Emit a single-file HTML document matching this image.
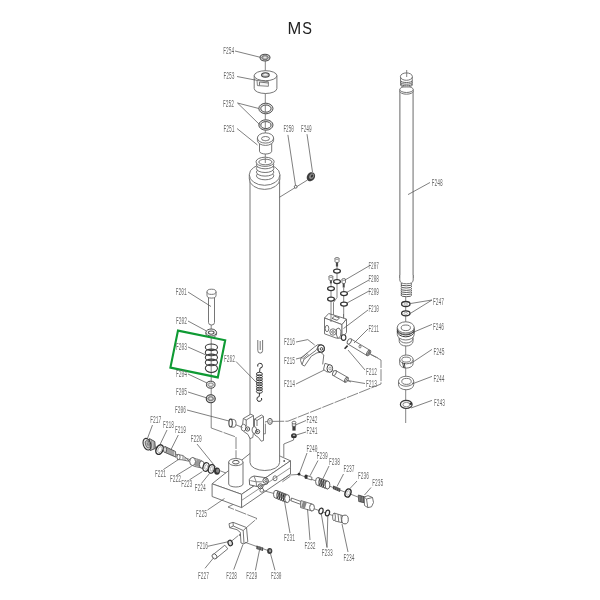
<!DOCTYPE html>
<html><head><meta charset="utf-8"><style>
html,body{margin:0;padding:0;background:#fff;width:600px;height:600px;overflow:hidden}
svg{display:block;will-change:transform}
.t{font-family:"Liberation Mono",monospace;font-size:10px;fill:#686868}
.ttl{font-family:"Liberation Sans",sans-serif;font-size:16.5px;fill:#222}
.s{fill:none;stroke:#666;stroke-width:0.9}
.w{fill:#fff;stroke:#666;stroke-width:0.9}
.k{fill:none;stroke:#3a3a3a;stroke-width:1.2}
.kw{fill:#fff;stroke:#3a3a3a;stroke-width:1.2}
.l{fill:none;stroke:#555;stroke-width:0.75}
.ax{fill:none;stroke:#666;stroke-width:0.8}
.da{fill:none;stroke:#666;stroke-width:0.8;stroke-dasharray:12,1.2}
.g{fill:none;stroke:#0e9a33;stroke-width:2.1}
</style></head><body>
<svg width="600" height="600" viewBox="0 0 600 600">
<rect width="600" height="600" fill="#fff"/>
<text class="ttl" x="287.6" y="33.7">M</text><text class="ttl" transform="translate(302.2,33.7) scale(0.88,1)">S</text>

<!-- ================= TOP STACK ================= -->
<line class="ax" x1="265.3" y1="61" x2="265.3" y2="160"/>
<!-- F254 nut -->
<ellipse cx="265" cy="57.6" rx="5" ry="3.4" fill="#cfcfcf" stroke="#505050" stroke-width="1.1"/>
<path d="M261.6,57.6 L263.2,55.7 L266.8,55.7 L268.4,57.6 L266.8,59.5 L263.2,59.5 Z" fill="#9a9a9a" stroke="#555" stroke-width="0.6"/>
<ellipse cx="265" cy="57.5" rx="1.7" ry="1" fill="#e6e6e6"/>
<!-- F253 block -->
<path class="w" d="M254.2,75.7 L254.2,88.5 A11.35,5 0 0 0 276.9,88.5 L276.9,75.7 Z"/>
<ellipse class="w" cx="265.55" cy="75.7" rx="11.35" ry="5"/>
<ellipse cx="265.4" cy="74.9" rx="3.8" ry="2.2" fill="#c4c4c4" stroke="#444" stroke-width="1.1"/>
<ellipse cx="265.4" cy="74.6" rx="1.7" ry="0.9" fill="#f0f0f0"/>
<path d="M257,80.4 L268.4,81.7 L268.4,86.3 L257.4,85.6 Z" fill="#f4f4f4" stroke="#666" stroke-width="0.8"/>
<path class="s" d="M254.2,79.6 L257,80.4 M259.5,82 L259.5,85.5 M259.5,82 L268.4,83"/>
<!-- F252 rings -->
<g>
<ellipse cx="265.9" cy="108.5" rx="6.1" ry="4.45" fill="none" stroke="#dedede" stroke-width="2"/>
<ellipse cx="265.9" cy="108.5" rx="7.1" ry="5.3" class="s" style="stroke:#555;stroke-width:1"/>
<ellipse cx="265.9" cy="108.6" rx="5.1" ry="3.6" class="s" style="stroke:#555;stroke-width:1"/>
<ellipse cx="265.9" cy="125" rx="6.1" ry="4.35" fill="none" stroke="#dedede" stroke-width="2"/>
<ellipse cx="265.9" cy="125" rx="7.1" ry="5.2" class="s" style="stroke:#555;stroke-width:1"/>
<ellipse cx="265.9" cy="125.1" rx="5.1" ry="3.5" class="s" style="stroke:#555;stroke-width:1"/>
</g>
<!-- F251 bushing -->
<path class="w" d="M259.5,142 L259.5,151.3 A6.1,2.7 0 0 0 271.7,151.3 L271.7,142 Z"/>
<path class="w" d="M257.4,138 L257.4,140.3 A8.1,5.1 0 0 0 273.6,140.3 L273.6,138 Z"/>
<ellipse class="w" cx="265.5" cy="138" rx="8.1" ry="5.1"/>
<ellipse class="s" cx="265.5" cy="138.6" rx="4" ry="2.1"/>
<path class="s" d="M261.8,139.4 A3.8,1.7 0 0 0 269.2,139.4" style="stroke:#999"/>

<!-- ================= BASE BLOCK ================= -->
<polygon class="w" points="212.1,483.8 241.6,494.3 290.5,460.8 280.7,456.4 258.7,446.5"/>
<polygon class="w" points="212.1,483.8 241.6,494.3 241.6,507.6 212.1,496.5"/>
<polygon class="w" points="241.6,494.3 290.5,460.8 290.5,474 241.6,507.6"/>
<line class="s" x1="241.6" y1="500.4" x2="290.5" y2="467.6" style="stroke:#888"/>
<circle cx="284.2" cy="461" r="0.9" fill="#555"/>

<!-- ================= COLUMN ================= -->
<path class="w" d="M250,178.9 L250,462.5 A14.8,8 0 0 0 279.6,462.5 L279.6,178.9 Z"/>
<!-- collar -->
<path class="w" d="M249.3,174.8 L249.3,178.9 A15.3,10.5 0 0 0 279.9,178.9 L279.9,174.8 Z"/>
<ellipse class="w" cx="264.6" cy="174.8" rx="15.3" ry="10.5"/>
<!-- threaded stud -->
<ellipse class="w" cx="265.1" cy="175.8" rx="8.7" ry="4"/>
<ellipse class="w" cx="265.1" cy="172.1" rx="8.7" ry="4"/>
<ellipse class="w" cx="265.1" cy="168.5" rx="8.7" ry="4"/>
<ellipse class="w" cx="265.1" cy="164.8" rx="8.7" ry="4"/>
<ellipse class="w" cx="265.1" cy="161.8" rx="9.1" ry="4.6"/>
<ellipse class="s" cx="265.4" cy="162" rx="6.6" ry="2.8"/>
<line class="ax" x1="265.3" y1="158" x2="265.3" y2="163"/>
<!-- U clip -->
<path class="s" d="M257.8,340 L257.8,350.5 A2.4,2.6 0 0 0 262.6,350.5 L262.6,340 M260.2,341 L260.2,350"/>
<!-- spring F262 -->
<path d="M259.6,372.2 L260,368.1 A2.4,2.4 0 1 0 257.8,366.6" fill="none" stroke="#333" stroke-width="1"/>
<path d="M259.6,392.8 L259.2,396.6 A2.4,2.4 0 1 0 261.5,398" fill="none" stroke="#333" stroke-width="1"/>
<g stroke="#333" stroke-width="0.95" fill="none">
<ellipse cx="259.4" cy="374.00" rx="3.0" ry="1.75"/><ellipse cx="259.4" cy="376.50" rx="3.0" ry="1.75"/><ellipse cx="259.4" cy="379.00" rx="3.0" ry="1.75"/><ellipse cx="259.4" cy="381.50" rx="3.0" ry="1.75"/><ellipse cx="259.4" cy="384.00" rx="3.0" ry="1.75"/><ellipse cx="259.4" cy="386.50" rx="3.0" ry="1.75"/><ellipse cx="259.4" cy="389.00" rx="3.0" ry="1.75"/><ellipse cx="259.4" cy="391.50" rx="3.0" ry="1.75"/>
</g>

<!-- F250 / F249 -->
<line class="l" x1="279.6" y1="197.2" x2="307.5" y2="180"/>
<circle class="w" cx="295.7" cy="186.8" r="1.4" style="stroke:#555"/>
<ellipse cx="310.9" cy="176.7" rx="3.9" ry="4.8" transform="rotate(35 310.9 176.7)" fill="#3e3e3e"/>
<ellipse cx="311.6" cy="176.2" rx="2.2" ry="3" transform="rotate(35 311.6 176.2)" fill="#8a8a8a"/>
<ellipse cx="312" cy="176" rx="1" ry="1.5" transform="rotate(35 312 176)" fill="#333"/>

<!-- ================= RIGHT ROD F248 ================= -->
<line class="ax" x1="406.7" y1="70" x2="406.7" y2="77"/>
<path d="M399.8,89.5 L399.8,280 Q399.8,283.8 406.5,283.8 Q413.2,283.8 413.2,280 L413.2,89.5 Z" fill="#fff"/>
<line x1="399.9" y1="91" x2="399.9" y2="278" stroke="#5e5e5e" stroke-width="0.95"/>
<line x1="413.1" y1="91" x2="413.1" y2="278" stroke="#9c9c9c" stroke-width="1.5"/>
<path class="w" d="M399.8,89.5 L399.8,91.2 A6.7,3 0 0 0 413.2,91.2 L413.2,89.5 Z"/>
<ellipse class="w" cx="406.5" cy="89.5" rx="6.7" ry="3"/>
<path class="w" d="M400.6,77 L400.6,85.2 A5.8,1.8 0 0 0 412.2,85.2 L412.2,77 Z"/>
<path class="s" d="M400.6,80.7 A5.8,1.8 0 0 0 412.2,80.7 M400.6,82.4 A5.8,1.8 0 0 0 412.2,82.4 M400.6,84 A5.8,1.8 0 0 0 412.2,84" style="stroke:#555"/>
<ellipse class="w" cx="406.4" cy="76.6" rx="6" ry="3.7"/>
<line class="ax" x1="406.7" y1="73" x2="406.7" y2="77"/>
<!-- bottom threads -->
<g class="w" style="stroke:#4a4a4a">
<ellipse cx="406.3" cy="294.9" rx="5.5" ry="1.8"/>
<ellipse cx="406.3" cy="292.8" rx="5.5" ry="1.8"/>
<ellipse cx="406.3" cy="290.7" rx="5.5" ry="1.8"/>
<ellipse cx="406.3" cy="288.6" rx="5.5" ry="1.8"/>
<ellipse cx="406.3" cy="286.2" rx="5.5" ry="1.8"/>
<ellipse cx="406.3" cy="284" rx="5.5" ry="1.8"/>
</g>
<path class="w" d="M399.8,275 L399.8,280 Q399.8,283.8 406.5,283.8 Q413.2,283.8 413.2,280 L413.2,275" style="stroke:none"/>
<path class="s" d="M399.8,275 L399.8,280 Q399.8,283.8 406.5,283.8 Q413.2,283.8 413.2,280 L413.2,275"/>

<line class="ax" x1="405.7" y1="297" x2="405.7" y2="423"/>
<!-- F247 -->
<ellipse cx="405.8" cy="304" rx="4.2" ry="2.5" fill="#fff" stroke="#333" stroke-width="1.3"/>
<ellipse cx="405.8" cy="304.1" rx="1.8" ry="1" fill="none" stroke="#888" stroke-width="0.6"/>
<ellipse cx="405.8" cy="313.3" rx="4.2" ry="2.5" fill="#fff" stroke="#333" stroke-width="1.3"/>
<ellipse cx="405.8" cy="313.4" rx="1.8" ry="1" fill="none" stroke="#888" stroke-width="0.6"/>
<!-- F246 -->
<path class="w" d="M399.2,336 L399.2,341.4 A6.9,4.6 0 0 0 413,341.4 L413,336 Z"/>
<path class="s" d="M399.2,338.4 A6.9,4.6 0 0 0 413,338.4"/>
<path class="w" d="M397.3,327.4 L397.3,334.4 A8.45,5.6 0 0 0 414.2,334.4 L414.2,327.4 Z"/>
<path class="s" d="M397.3,328.65 A8.45,5.6 0 0 0 414.2,328.65"/>
<path class="k" d="M397.3,329.4 A8.45,5.6 0 0 0 414.2,329.4 M397.3,331.2 A8.45,5.6 0 0 0 414.2,331.2" style="stroke-width:1"/>
<ellipse class="w" cx="405.75" cy="327.4" rx="8.45" ry="5.6"/>
<ellipse class="s" cx="405.8" cy="327.8" rx="4.6" ry="2.8"/>
<!-- F245 -->
<path class="w" d="M399.7,359.4 L399.7,363.7 A6.7,4.4 0 0 0 413.1,363.7 L413.1,359.4 Z"/>
<ellipse class="w" cx="406.4" cy="359.4" rx="6.7" ry="4.4"/>
<ellipse class="s" cx="406.2" cy="359.6" rx="4.4" ry="2.5"/>
<path d="M402.6,362.6 L403.8,367.8 M404.3,363 L405,368.1" stroke="#333" stroke-width="0.9" fill="none"/>
<!-- F244 -->
<path class="w" d="M398.5,381.25 L398.5,384.75 A7.6,5 0 0 0 413.7,384.75 L413.7,381.25 Z"/>
<ellipse class="w" cx="406.1" cy="381.25" rx="7.6" ry="5"/>
<ellipse class="s" cx="406.5" cy="381.4" rx="4.7" ry="3"/>
<!-- F243 -->
<ellipse cx="406.25" cy="404.4" rx="5.9" ry="4.1" fill="#eee" stroke="#3a3a3a" stroke-width="1.15"/>
<ellipse cx="406.4" cy="404.6" rx="3.4" ry="2.2" fill="#fff" stroke="#666" stroke-width="0.7"/>
<circle cx="410.8" cy="403.7" r="1.3" fill="#333"/>

<!-- ================= LEFT STACK F201-F205 ================= -->
<line class="ax" x1="211.2" y1="325" x2="211.2" y2="428"/>
<path class="w" d="M208.5,296 L208.5,322.5 A3,2.5 0 0 0 214.5,322.5 L214.5,296 Z"/>
<path class="w" d="M207,291.8 L207,295.5 A4.5,2.6 0 0 0 216,295.5 L216,291.8 Z"/>
<ellipse class="w" cx="211.5" cy="291.8" rx="4.5" ry="2.6"/>
<!-- F202 -->
<path class="w" d="M205.9,332.5 L205.9,334 A5.35,3.5 0 0 0 216.6,334 L216.6,332.5 Z"/>
<ellipse cx="211.2" cy="332.5" rx="5.35" ry="3.5" fill="#f2f2f2" stroke="#555" stroke-width="1"/>
<ellipse cx="211.2" cy="332.6" rx="2.8" ry="1.6" fill="#fff" stroke="#555" stroke-width="1.1"/>
<!-- F203 spring -->
<g stroke="#3a3a3a" stroke-width="1.05" fill="none">
<ellipse cx="211.4" cy="368.3" rx="6.1" ry="4.1"/>
<ellipse cx="211.4" cy="362.4" rx="6.1" ry="3.3"/>
<ellipse cx="211.4" cy="357.4" rx="6.1" ry="3.3"/>
<ellipse cx="211.4" cy="352.4" rx="6.1" ry="3.3"/>
<ellipse cx="211.4" cy="347.3" rx="6.1" ry="3.3"/>
</g>
<!-- F204 -->
<ellipse cx="210.75" cy="384.7" rx="4.3" ry="3.5" fill="#e6e6e6" stroke="#444" stroke-width="1"/>
<path d="M207.8,384.7 L209.3,383 L212.2,383 L213.7,384.7 L212.2,386.4 L209.3,386.4 Z" fill="#c4c4c4" stroke="#555" stroke-width="0.5"/>
<ellipse cx="210.75" cy="384.7" rx="1.3" ry="0.9" fill="#f4f4f4"/>
<!-- F205 -->
<ellipse cx="210.75" cy="398.7" rx="4.5" ry="4" fill="#d8d8d8" stroke="#3a3a3a" stroke-width="1.1"/>
<path d="M207.6,398.7 L209.2,396.8 L212.3,396.8 L213.9,398.7 L212.3,400.6 L209.2,400.6 Z" fill="#a0a0a0" stroke="#444" stroke-width="0.5"/>
<ellipse cx="210.75" cy="398.6" rx="1.4" ry="1" fill="#e6e6e6"/>
<polyline class="da" points="211.2,428 236,437 236,458"/>

<!-- green box -->
<polygon class="g" points="178,330.6 225.2,340.2 217.8,377.4 170.4,367.6"/>

<!-- ================= F206 CLEVIS ================= -->
<path class="w" d="M243.3,418.5 L250.8,414.2 L253.5,415.6 L253.5,432 L252.8,437.5 L250,438.6 L248,434.5 L243.8,431.5 L242.2,428 Z"/>
<path class="s" d="M243.3,418.5 L246.2,420 L253.5,415.6 M246.2,420 L246.2,426"/>
<path class="w" d="M254.5,419 L261.4,415 L263.5,416.4 L263.5,440.5 L261.2,441.2 L258.5,437.5 L255,435.2 L253.3,431 L254.5,426 Z"/>
<path class="s" d="M254.5,419 L257,420.5 L263.5,416.4 M257,420.5 L257,426"/>
<ellipse class="w" cx="243.6" cy="427.6" rx="2.4" ry="3.4"/>
<circle class="s" cx="247.6" cy="429" r="2.1" style="stroke:#444"/>
<circle cx="247.6" cy="429" r="0.8" fill="#555"/>
<ellipse class="w" cx="254.3" cy="430" rx="2.3" ry="3.4"/>
<circle class="s" cx="257.6" cy="431.6" r="2.1" style="stroke:#444"/>
<circle cx="257.6" cy="431.6" r="0.8" fill="#555"/>
<!-- F206 pin -->
<path class="w" d="M230.6,419.1 L233.8,419.5 A2.3,3.9 0 0 1 233.8,427.3 L230.6,426.9 Z"/>
<ellipse cx="230.6" cy="423" rx="1.7" ry="3.9" fill="#fff" stroke="#444" stroke-width="1.1"/>
<line class="da" x1="236" y1="424.8" x2="242.5" y2="427.5"/>
<ellipse cx="270" cy="421.4" rx="2.3" ry="3" fill="#fff" stroke="#555" stroke-width="1"/>
<ellipse cx="270.3" cy="421.4" rx="1" ry="1.4" fill="none" stroke="#777" stroke-width="0.6"/>
<polyline class="da" points="263.5,433.8 265.4,433.8 265.4,421.6 267.8,421.6"/>
<polyline class="da" points="272.2,421.4 288,421.2 381,384 381,360 371,354.6"/>

<!-- tube F226 -->
<path class="w" d="M228.7,462.1 L228.7,484 A7.15,3 0 0 0 243,484 L243,462.1 Z"/>
<ellipse class="w" cx="235.85" cy="462.1" rx="7.15" ry="3.6"/>
<ellipse cx="235.85" cy="462.2" rx="3.3" ry="1.8" fill="#fff" stroke="#555" stroke-width="1"/>
<!-- F225 small clevis on block -->
<path class="w" d="M249.3,479.6 Q250,477 254,476 L263.5,477.4 L266.5,478 L268.3,481 L267.3,484 L263,484.8 L259.5,485.5 L257,486.5 L249.6,484.8 Z" style="stroke:#555"/>
<path class="s" d="M250.3,480.6 L256.2,481.8 L262.5,481.8 M256.2,481.8 L256.6,486.4 M254,476 L256.2,481.8" style="stroke:#777"/>
<circle class="w" cx="265.6" cy="480.6" r="2.7" style="stroke:#444"/>
<circle class="s" cx="265.9" cy="480.6" r="1.1" style="stroke:#555"/>
<circle class="w" cx="261.8" cy="490.3" r="1.9" style="stroke:#666"/>
<circle class="w" cx="260.5" cy="486.3" r="2.5" style="stroke:#444"/>
<circle class="s" cx="260.7" cy="486.3" r="1" style="stroke:#444"/>
<ellipse class="s" cx="275" cy="478.3" rx="2" ry="2.5"/>
<path class="s" d="M281.9,480.2 L290.4,474.4 M282.4,481.8 L290.4,476.2" style="stroke:#777"/>
<line class="ax" x1="290.4" y1="475" x2="299" y2="474.4"/>
<line class="ax" x1="263" y1="490.5" x2="274" y2="493.5"/>

<!-- F242/F241 -->
<rect x="292.4" y="426" width="3.2" height="4.6" fill="#3c3c3c"/>
<path d="M292.3,422.8 L292.3,426.3 L295.7,426.3 L295.7,422.8 Z" fill="#fff" stroke="#555" stroke-width="0.8"/>
<ellipse cx="294" cy="422.6" rx="1.9" ry="1.4" fill="#fff" stroke="#555" stroke-width="0.8"/>
<ellipse cx="293.9" cy="435.8" rx="2.9" ry="2.5" fill="#333"/>
<ellipse cx="294" cy="435.3" rx="1.3" ry="0.9" fill="#aaa"/>
<polyline class="l" points="293.6,437.8 293.6,440 283.8,444 283.8,457"/>

<!-- ================= VALVE ASSEMBLY F207-F211 ================= -->
<polyline class="ax" points="337,266 337,297.5 333.5,302.5 333.5,316"/>
<line class="ax" x1="331" y1="283.5" x2="331" y2="322"/>
<line class="ax" x1="343.7" y1="287.5" x2="343.7" y2="318"/>
<!-- bolts -->
<rect x="335.9" y="261" width="2.2" height="5.5" fill="#4a4a4a"/>
<path d="M335,258.4 L335,261.6 A2,0.9 0 0 0 339,261.6 L339,258.4 Z" fill="#fff" stroke="#555" stroke-width="0.8"/>
<ellipse cx="337" cy="258.4" rx="2" ry="0.9" fill="#fff" stroke="#555" stroke-width="0.7"/>
<rect x="329.9" y="279" width="2" height="4.5" fill="#4a4a4a"/>
<path d="M329,276.4 L329,279.6 A1.9,0.9 0 0 0 332.8,279.6 L332.8,276.4 Z" fill="#fff" stroke="#555" stroke-width="0.8"/>
<ellipse cx="330.9" cy="276.4" rx="1.9" ry="0.9" fill="#fff" stroke="#555" stroke-width="0.7"/>
<rect x="342.7" y="282" width="2" height="5.5" fill="#4a4a4a"/>
<path d="M342,279.4 L342,282.6 A1.75,0.9 0 0 0 345.5,282.6 L345.5,279.4 Z" fill="#fff" stroke="#555" stroke-width="0.8"/>
<ellipse cx="343.75" cy="279.4" rx="1.75" ry="0.9" fill="#fff" stroke="#555" stroke-width="0.7"/>
<g fill="#fff" stroke="#333" stroke-width="1.25">
<ellipse cx="337" cy="271" rx="3.4" ry="2"/><ellipse cx="337" cy="281.5" rx="3.4" ry="2"/>
<ellipse cx="331" cy="288.5" rx="3.4" ry="2"/><ellipse cx="331" cy="299" rx="3.4" ry="2"/>
<ellipse cx="344" cy="293.5" rx="3.4" ry="2"/><ellipse cx="344" cy="304" rx="3.4" ry="2"/>
</g>
<!-- block F210 -->
<polygon class="w" points="324.5,318 328.7,313.5 346.5,319 342,324.6"/>
<polygon class="w" points="324.5,318 342,324.6 342,338.2 336,338 324.5,333.8"/>
<polygon class="w" points="342,324.6 346.5,319 346.5,332.5 342,338.2"/>
<polygon class="s" points="332,318.4 334.5,316.2 339.5,318 337,320.3" style="stroke:#555"/>
<line class="ax" x1="331" y1="314" x2="331" y2="322"/>
<line class="ax" x1="343.5" y1="314" x2="343.5" y2="318.5"/>
<ellipse class="w" cx="327" cy="328.5" rx="1.8" ry="3.2"/>
<circle class="w" cx="333" cy="332" r="3.2"/>
<circle class="s" cx="333" cy="332" r="1.3"/>
<path class="w" d="M336.5,329 L339,328 L341,331 L340.5,336 L338,338.5 L336.5,335 Z"/>
<ellipse cx="343.6" cy="337.6" rx="2.3" ry="2.8" fill="#fff" stroke="#333" stroke-width="1.1"/>
<!-- F211 -->
<path class="w" d="M350.8,338.8 L370.1,350.4 L367.1,355.6 L347.8,344 Z"/>
<ellipse class="w" cx="349.3" cy="341.4" rx="1.7" ry="3" transform="rotate(31 349.3 341.4)"/>
<ellipse class="s" cx="368.6" cy="353" rx="1.7" ry="3" transform="rotate(31 368.6 353)"/>
<ellipse class="s" cx="368.8" cy="353" rx="0.8" ry="1.4" transform="rotate(31 368.8 353)"/>
<ellipse class="s" cx="360" cy="346.6" rx="1" ry="1.4"/>
<line class="ax" x1="370" y1="354" x2="378" y2="358"/>
<!-- F212 pin -->
<line x1="344.6" y1="348.8" x2="347.6" y2="345.6" stroke="#333" stroke-width="1.6"/>
<!-- F215/F216 lever -->
<path class="w" d="M300.5,360.4 L301.1,357.9 L314.7,346.8 L317.5,344.8 L321.5,344.6 L324.3,347 L324.4,350.5 L322,352.2 L317,352.8 L311.3,356.2 L304.5,366.1 L302,364.6 Z"/>
<path d="M301.6,357.2 L304,359.3 M302.8,356.2 L305.2,358.3 M304,355.2 L306.4,357.3 M305.2,354.2 L307.6,356.3 M306.4,353.2 L308.8,355.3" stroke="#555" stroke-width="0.7"/>
<path class="s" d="M304,359.3 L316,350.3"/>
<path class="s" d="M304,359.3 L302,364.6"/>
<ellipse cx="321" cy="348.6" rx="3.3" ry="3.6" fill="#fff" stroke="#333" stroke-width="1.1"/>
<circle cx="321.5" cy="348.9" r="1.3" fill="none" stroke="#333" stroke-width="0.9"/>
<circle cx="317.6" cy="349.3" r="1.2" fill="#666"/>
<path class="s" d="M319.9,351.6 L323.8,355 L322.7,364.4"/>
<!-- F214 -->
<path class="w" d="M325,363.3 L329.5,364.8 L331.8,371.5 L327,372 L323.5,369.5 Z"/>
<ellipse cx="329.8" cy="368.5" rx="2.8" ry="3.8" fill="#fff" stroke="#444" stroke-width="1"/>
<ellipse cx="330" cy="368.5" rx="1.1" ry="1.5" fill="none" stroke="#666" stroke-width="0.6"/>
<line class="ax" x1="332.5" y1="370" x2="335" y2="372.5"/>
<!-- F213 -->
<path class="w" d="M335.8,370.6 L347.8,377.4 L345,382.2 L333,375.4 Z"/>
<ellipse class="w" cx="334.4" cy="373" rx="1.5" ry="2.8" transform="rotate(29.5 334.4 373)"/>
<ellipse class="s" cx="346.4" cy="379.8" rx="1.5" ry="2.8" transform="rotate(29.5 346.4 379.8)"/>
<line class="ax" x1="347.5" y1="380.5" x2="351" y2="382"/>

<!-- ================= LEFT HORIZONTAL ASSEMBLY ================= -->
<line class="ax" x1="156" y1="447" x2="226" y2="473"/>
<!-- F217 plug -->
<path d="M149.5,438.6 L154.8,441.6 L155.4,448.4 L150.2,450.6 Z" fill="#e4e4e4" stroke="#444" stroke-width="0.9"/>
<path d="M151.3,439.8 L151.8,449.8 M152.9,440.6 L153.4,449.3 M154.2,441.3 L154.5,448.7" stroke="#555" stroke-width="0.6"/>
<ellipse cx="147" cy="444.2" rx="3.7" ry="6" transform="rotate(-18 147 444.2)" fill="#e2e2e2" stroke="#333" stroke-width="1.1"/>
<ellipse cx="147.6" cy="444.3" rx="2.1" ry="3.9" transform="rotate(-18 147.6 444.3)" fill="#bdbdbd" stroke="#555" stroke-width="0.7"/>
<ellipse cx="147.8" cy="444.3" rx="0.9" ry="1.8" transform="rotate(-18 147.8 444.3)" fill="#888"/>
<!-- F218 ring -->
<ellipse cx="159.6" cy="449.6" rx="3.4" ry="5" transform="rotate(25 159.6 449.6)" fill="#fff" stroke="#2e2e2e" stroke-width="1.5"/>
<ellipse cx="159.9" cy="449.6" rx="1.8" ry="3.2" transform="rotate(25 159.9 449.6)" fill="#fff" stroke="#888" stroke-width="0.6"/>
<!-- F219 -->
<path d="M165,446.5 L175.5,451.5 L176,457.2 L165.2,452.5 Z" fill="#d6d6d6" stroke="#444" stroke-width="0.8"/>
<g stroke="#444" stroke-width="0.7"><line x1="167" y1="447.5" x2="167" y2="453.3"/><line x1="169" y1="448.4" x2="169" y2="454.2"/><line x1="171" y1="449.4" x2="171" y2="455.1"/><line x1="173" y1="450.3" x2="173" y2="456"/></g>
<ellipse cx="165" cy="449.6" rx="1.6" ry="3" fill="#ddd" stroke="#444" stroke-width="0.8"/>
<!-- F221 -->
<path d="M177.5,454.5 L183,455.5 L189.4,461.3 L182,459.8 L177.5,459.5 Z" fill="#fff" stroke="#555" stroke-width="0.8"/>
<ellipse cx="178.5" cy="457" rx="1.6" ry="2.6" fill="#fff" stroke="#555" stroke-width="0.8"/>
<path d="M183,456 L183,459.6 M185,457.5 L185,460" stroke="#555" stroke-width="0.7"/>
<!-- F222 -->
<path class="w" d="M192.5,457.6 L200.5,460.5 L203,468.3 L195,466.5 L192,465.3 Z"/>
<rect x="195.5" y="459" width="5.5" height="7.5" fill="#999" transform="rotate(20 198 463)"/>
<ellipse cx="192.6" cy="461.5" rx="2.9" ry="4" fill="#fff" stroke="#555" stroke-width="0.9"/>
<ellipse cx="201.8" cy="464.6" rx="2.4" ry="3.6" fill="#fff" stroke="#555" stroke-width="0.9"/>
<!-- F223/F224 rings -->
<ellipse cx="206" cy="467" rx="2.9" ry="4.4" transform="rotate(15 206 467)" fill="#fff" stroke="#333" stroke-width="1.2"/>
<ellipse cx="206.2" cy="467" rx="1.4" ry="2.4" transform="rotate(15 206.2 467)" fill="none" stroke="#888" stroke-width="0.6"/>
<ellipse cx="211.4" cy="468.9" rx="2.9" ry="4.4" transform="rotate(15 211.4 468.9)" fill="#fff" stroke="#333" stroke-width="1.2"/>
<ellipse cx="211.6" cy="468.9" rx="1.4" ry="2.4" transform="rotate(15 211.6 468.9)" fill="none" stroke="#888" stroke-width="0.6"/>
<!-- F220 nut -->
<ellipse cx="217" cy="471.1" rx="3" ry="3.6" fill="#333"/>
<ellipse cx="217.6" cy="470.8" rx="1.6" ry="2" fill="#888"/>

<!-- ================= RIGHT-BOTTOM ASSEMBLY F235-F240 ================= -->
<line class="ax" x1="299" y1="474.5" x2="358" y2="497"/>
<circle cx="299" cy="474.2" r="1.4" fill="#2e2e2e"/>
<!-- F239 -->
<path d="M307,475.5 L312,477.3 L311.6,480 L306.6,478.4 Z" fill="#fff" stroke="#555" stroke-width="0.8"/>
<ellipse cx="306" cy="476.8" rx="1.6" ry="2.3" fill="#333"/>
<!-- F238 spring -->
<path class="w" d="M318,477.5 L327.5,481 L327.5,489 L318,485.5 Z" style="stroke:none"/>
<ellipse cx="318" cy="481.5" rx="2.4" ry="4" fill="#fff" stroke="#555" stroke-width="0.9"/>
<g stroke="#2e2e2e" stroke-width="1" fill="none">
<ellipse cx="320.5" cy="482.4" rx="1.6" ry="3.8"/><ellipse cx="322.5" cy="483.2" rx="1.6" ry="3.8"/><ellipse cx="324.5" cy="484" rx="1.6" ry="3.8"/>
</g>
<ellipse cx="327.5" cy="485" rx="2.4" ry="4" fill="#fff" stroke="#555" stroke-width="0.9"/>
<path class="s" d="M318,477.5 L327.5,481 M318,485.5 L327.5,489"/>
<!-- F237 -->
<path d="M333.2,485.5 L340.5,488.5 L340,492 L332.8,489 Z" fill="#444"/>
<g stroke="#aaa" stroke-width="0.5"><line x1="335" y1="486.5" x2="334.6" y2="489.8"/><line x1="337" y1="487.3" x2="336.6" y2="490.6"/><line x1="339" y1="488.1" x2="338.6" y2="491.4"/></g>
<!-- F236 -->
<ellipse cx="348" cy="493" rx="2.8" ry="4.2" transform="rotate(20 348 493)" fill="#fff" stroke="#2e2e2e" stroke-width="1.4"/>
<ellipse cx="348.2" cy="493" rx="1.3" ry="2.4" transform="rotate(20 348.2 493)" fill="none" stroke="#999" stroke-width="0.6"/>
<!-- F235 plug -->
<path d="M358.3,495 L365,497 L365.5,503 L358.7,501.5 Z" fill="#9a9a9a" stroke="#444" stroke-width="0.8"/>
<g stroke="#333" stroke-width="0.7"><line x1="360" y1="495.4" x2="360.3" y2="502"/><line x1="361.7" y1="495.9" x2="362" y2="502.4"/><line x1="363.4" y1="496.4" x2="363.7" y2="502.8"/></g>
<path class="w" d="M364.2,497 L368,495.6 L372.5,497.5 L373.5,502.5 L371.5,506.8 L367.8,507.6 L364.5,505.5 Z"/>
<path class="s" d="M364.2,497 L366.5,499 L372.5,497.5 M366.5,499 L367.8,507.6"/>
<!-- F231 spring -->
<line class="ax" x1="289" y1="499.5" x2="334" y2="516"/>
<path d="M276,490.3 L287.2,494.6 L287.2,502.6 L276,498.3 Z" fill="#fff"/>
<ellipse cx="276" cy="494.3" rx="2.5" ry="4" fill="#fff" stroke="#555" stroke-width="0.9"/>
<g stroke="#2e2e2e" stroke-width="1" fill="none">
<ellipse cx="278.5" cy="495.3" rx="1.6" ry="3.9"/><ellipse cx="280.6" cy="496.1" rx="1.6" ry="3.9"/><ellipse cx="282.7" cy="496.9" rx="1.6" ry="3.9"/><ellipse cx="284.8" cy="497.7" rx="1.6" ry="3.9"/>
</g>
<ellipse cx="287.2" cy="498.6" rx="2.5" ry="4" fill="#fff" stroke="#555" stroke-width="0.9"/>
<path class="s" d="M276,490.3 L287.2,494.6 M276,498.3 L287.2,502.6"/>
<!-- F232 -->
<path class="w" d="M291.5,498 L301,501.5 L300.5,504.3 L291,500.8 Z"/>
<path class="w" d="M301,500.6 L312,504 L312,511 L300.5,507.5 Z"/>
<rect x="302" y="501.5" width="4" height="6.5" fill="#888" transform="rotate(17 304 504.7)"/>
<ellipse cx="312" cy="507.5" rx="2.4" ry="3.5" fill="#fff" stroke="#555" stroke-width="0.9"/>
<!-- F233 -->
<ellipse cx="321" cy="511" rx="2" ry="3" transform="rotate(15 321 511)" fill="#fff" stroke="#2e2e2e" stroke-width="1.2"/>
<ellipse cx="327.5" cy="513" rx="2" ry="3" transform="rotate(15 327.5 513)" fill="#fff" stroke="#2e2e2e" stroke-width="1.2"/>
<!-- F234 -->
<path class="w" d="M334,513 L344,516 L345.5,523.5 L335,521 Z"/>
<path class="s" d="M338,514.2 L338.8,521.8 M341,515 L341.6,522.5"/>
<ellipse cx="345" cy="519.5" rx="3.3" ry="4.4" fill="#fff" stroke="#555" stroke-width="0.9"/>
<ellipse cx="334" cy="517" rx="1.4" ry="3.8" fill="#fff" stroke="#555" stroke-width="0.8"/>

<!-- ================= BOTTOM BRACKET ================= -->
<polyline class="da" points="233,504.5 228,507 257,518.5 246.3,527.7"/>
<path class="w" d="M229,523.7 L233,522.3 L246.5,527.5 L247.8,541.8 L243.8,543.8 L241,543 L240.3,532.3 L237,529.7 L229.7,527.7 Z"/>
<path class="s" d="M233,522.3 L233.3,526 L243.2,530.5 L244,543.5 M233.3,526 L229.7,527.7 M243.2,530.5 L246.5,527.5"/>
<circle cx="240" cy="535" r="1" fill="#666"/>
<line class="ax" x1="245" y1="542.3" x2="268" y2="550.5"/>
<line class="ax" x1="238.3" y1="535.5" x2="231.7" y2="541"/>
<ellipse cx="230.2" cy="543" rx="2.1" ry="2.8" transform="rotate(-25 230.2 543)" fill="#ddd" stroke="#2e2e2e" stroke-width="1.2"/>
<!-- F227 pin -->
<path class="w" d="M213.2,554.5 L224.8,545.2 L227.8,548.8 L216.3,558.2 Z"/>
<ellipse cx="214.5" cy="556.4" rx="2.2" ry="2.7" transform="rotate(-40 214.5 556.4)" fill="#fff" stroke="#555" stroke-width="0.9"/>
<!-- F229 -->
<path d="M256.5,545.5 L263.2,547.5 L263,551 L256.3,549 Z" fill="#444"/>
<g stroke="#bbb" stroke-width="0.5"><line x1="258.3" y1="546" x2="258.1" y2="549.4"/><line x1="260" y1="546.5" x2="259.8" y2="549.9"/><line x1="261.7" y1="547" x2="261.5" y2="550.4"/></g>
<!-- F230 -->
<ellipse cx="269.7" cy="551" rx="2.6" ry="3" fill="#3a3a3a"/>
<ellipse cx="270" cy="550.8" rx="1.2" ry="1.5" fill="#999"/>

<!-- ================= LEADERS ================= -->
<g class="l">
<line x1="235" y1="51" x2="260.3" y2="57.3"/>
<line x1="237" y1="76.5" x2="255" y2="80"/>
<line x1="237.5" y1="103" x2="258.8" y2="108.5"/>
<line x1="237.5" y1="103" x2="259.5" y2="124.5"/>
<line x1="237" y1="128.5" x2="257.5" y2="145"/>
<line x1="287.9" y1="134.9" x2="295.5" y2="185.4"/>
<line x1="307" y1="134.2" x2="312.5" y2="172"/>
<line x1="430" y1="182.5" x2="408" y2="194.6"/>
<line x1="432" y1="300" x2="410" y2="303.6"/>
<line x1="432" y1="300" x2="410" y2="313.6"/>
<line x1="432" y1="324.4" x2="413" y2="332.4"/>
<line x1="432" y1="349.4" x2="410" y2="364"/>
<line x1="432" y1="376.4" x2="412" y2="384"/>
<line x1="432" y1="400.4" x2="411" y2="408"/>
<line x1="188" y1="292" x2="211" y2="306.5"/>
<line x1="188" y1="321" x2="206.5" y2="331"/>
<line x1="188" y1="347" x2="206" y2="355"/>
<line x1="236" y1="361.5" x2="257" y2="383"/>
<line x1="188" y1="374" x2="207" y2="383"/>
<line x1="188" y1="392" x2="207" y2="398"/>
<line x1="187" y1="410" x2="229" y2="421"/>
<line x1="152.5" y1="425" x2="147.5" y2="438.3"/>
<line x1="167" y1="430" x2="160" y2="444.6"/>
<line x1="178.3" y1="435" x2="170.8" y2="450"/>
<line x1="197" y1="444" x2="216" y2="467.5"/>
<line x1="163.3" y1="469.6" x2="178.3" y2="459.6"/>
<line x1="176.6" y1="475.3" x2="191.7" y2="466.1"/>
<line x1="189.4" y1="479.9" x2="202.3" y2="471.6"/>
<line x1="201.4" y1="483.5" x2="209.6" y2="473.4"/>
<line x1="207.5" y1="510" x2="224.5" y2="498.5"/>
<line x1="207.7" y1="546.3" x2="228.3" y2="541.7"/>
<line x1="205" y1="568.3" x2="213.7" y2="557.7"/>
<line x1="233.7" y1="569.7" x2="243" y2="544.3"/>
<line x1="255.4" y1="570.3" x2="259.7" y2="549"/>
<line x1="275" y1="570.3" x2="270.3" y2="553"/>
<line x1="290" y1="533" x2="284.5" y2="501.3"/>
<line x1="310" y1="540" x2="307.5" y2="509"/>
<line x1="327" y1="547.5" x2="321.3" y2="514"/>
<line x1="327" y1="547.5" x2="327.8" y2="516"/>
<line x1="348" y1="552" x2="342" y2="524"/>
<line x1="371" y1="487.5" x2="364.5" y2="495"/>
<line x1="357" y1="481" x2="349.5" y2="489"/>
<line x1="343.5" y1="474" x2="337" y2="486.5"/>
<line x1="329" y1="466" x2="322.5" y2="479.5"/>
<line x1="318" y1="460.5" x2="310" y2="475.8"/>
<line x1="307" y1="453" x2="299.5" y2="473"/>
<line x1="306" y1="432" x2="296.3" y2="435"/>
<line x1="306" y1="420.5" x2="295.5" y2="425"/>
<line x1="369" y1="266" x2="345" y2="280"/>
<line x1="369" y1="280" x2="346.5" y2="292.5"/>
<line x1="369" y1="291" x2="347" y2="303"/>
<line x1="368" y1="310" x2="343.5" y2="328.5"/>
<line x1="368" y1="329" x2="354" y2="343"/>
<line x1="365" y1="370" x2="348" y2="350"/>
<line x1="365" y1="383.5" x2="347.5" y2="380.5"/>
<line x1="296" y1="384" x2="324.4" y2="369.9"/>
<line x1="296" y1="359" x2="301.9" y2="357.5"/>
<polyline points="296,342 307.8,339.6 314.7,345"/>
</g>

<!-- ================= LABELS ================= -->
<g class="t">
<text x="223.3" y="53.5" textLength="11" lengthAdjust="spacingAndGlyphs">F254</text>
<text x="223.5" y="79" textLength="11" lengthAdjust="spacingAndGlyphs">F253</text>
<text x="223" y="106.7" textLength="11" lengthAdjust="spacingAndGlyphs">F252</text>
<text x="223.5" y="131.7" textLength="11" lengthAdjust="spacingAndGlyphs">F251</text>
<text x="283.4" y="132" textLength="10.5" lengthAdjust="spacingAndGlyphs">F250</text>
<text x="301" y="132" textLength="10.7" lengthAdjust="spacingAndGlyphs">F249</text>
<text x="431.7" y="185.8" textLength="11" lengthAdjust="spacingAndGlyphs">F248</text>
<text x="175.8" y="295" textLength="11" lengthAdjust="spacingAndGlyphs">F201</text>
<text x="176" y="324.2" textLength="11" lengthAdjust="spacingAndGlyphs">F202</text>
<text x="176" y="350" textLength="11" lengthAdjust="spacingAndGlyphs">F203</text>
<text x="224" y="361.7" textLength="11" lengthAdjust="spacingAndGlyphs">F262</text>
<text x="176" y="377" textLength="11" lengthAdjust="spacingAndGlyphs">F204</text>
<text x="176" y="395" textLength="11" lengthAdjust="spacingAndGlyphs">F205</text>
<text x="175" y="413" textLength="11" lengthAdjust="spacingAndGlyphs">F206</text>
<text x="150.3" y="423" textLength="11" lengthAdjust="spacingAndGlyphs">F217</text>
<text x="163" y="428" textLength="11" lengthAdjust="spacingAndGlyphs">F218</text>
<text x="175" y="433" textLength="11" lengthAdjust="spacingAndGlyphs">F219</text>
<text x="190.8" y="442" textLength="11" lengthAdjust="spacingAndGlyphs">F220</text>
<text x="155" y="476.7" textLength="11" lengthAdjust="spacingAndGlyphs">F221</text>
<text x="170" y="482" textLength="11" lengthAdjust="spacingAndGlyphs">F222</text>
<text x="181.3" y="486.7" textLength="11" lengthAdjust="spacingAndGlyphs">F223</text>
<text x="194.7" y="490.8" textLength="11" lengthAdjust="spacingAndGlyphs">F224</text>
<text x="196" y="517" textLength="11" lengthAdjust="spacingAndGlyphs">F225</text>
<text x="197" y="549" textLength="11" lengthAdjust="spacingAndGlyphs">F216</text>
<text x="198" y="579" textLength="11" lengthAdjust="spacingAndGlyphs">F227</text>
<text x="226.3" y="579" textLength="10.7" lengthAdjust="spacingAndGlyphs">F228</text>
<text x="246.3" y="579" textLength="11" lengthAdjust="spacingAndGlyphs">F229</text>
<text x="271" y="579" textLength="10.5" lengthAdjust="spacingAndGlyphs">F230</text>
<text x="284" y="541" textLength="11" lengthAdjust="spacingAndGlyphs">F231</text>
<text x="304.4" y="548.7" textLength="11" lengthAdjust="spacingAndGlyphs">F232</text>
<text x="321.8" y="555.7" textLength="11" lengthAdjust="spacingAndGlyphs">F233</text>
<text x="343.4" y="561.3" textLength="11" lengthAdjust="spacingAndGlyphs">F234</text>
<text x="372.2" y="486" textLength="11" lengthAdjust="spacingAndGlyphs">F235</text>
<text x="358" y="479.4" textLength="11" lengthAdjust="spacingAndGlyphs">F236</text>
<text x="343.4" y="472.3" textLength="11" lengthAdjust="spacingAndGlyphs">F237</text>
<text x="329" y="464.7" textLength="11" lengthAdjust="spacingAndGlyphs">F238</text>
<text x="316.8" y="459.3" textLength="11" lengthAdjust="spacingAndGlyphs">F239</text>
<text x="306.6" y="451.7" textLength="11" lengthAdjust="spacingAndGlyphs">F240</text>
<text x="306.6" y="434.4" textLength="11" lengthAdjust="spacingAndGlyphs">F241</text>
<text x="306.6" y="423" textLength="11" lengthAdjust="spacingAndGlyphs">F242</text>
<text x="368.5" y="268.5" textLength="10.5" lengthAdjust="spacingAndGlyphs">F207</text>
<text x="368.5" y="282" textLength="10.5" lengthAdjust="spacingAndGlyphs">F208</text>
<text x="368.5" y="295" textLength="10.5" lengthAdjust="spacingAndGlyphs">F209</text>
<text x="368.5" y="312.4" textLength="10.5" lengthAdjust="spacingAndGlyphs">F210</text>
<text x="368.5" y="332" textLength="10.5" lengthAdjust="spacingAndGlyphs">F211</text>
<text x="284" y="345" textLength="11" lengthAdjust="spacingAndGlyphs">F216</text>
<text x="284" y="363.6" textLength="11" lengthAdjust="spacingAndGlyphs">F215</text>
<text x="284" y="387" textLength="11" lengthAdjust="spacingAndGlyphs">F214</text>
<text x="366" y="375" textLength="11" lengthAdjust="spacingAndGlyphs">F212</text>
<text x="366" y="387" textLength="11" lengthAdjust="spacingAndGlyphs">F213</text>
<text x="433" y="305" textLength="11" lengthAdjust="spacingAndGlyphs">F247</text>
<text x="433" y="330" textLength="11" lengthAdjust="spacingAndGlyphs">F246</text>
<text x="433.5" y="355" textLength="11" lengthAdjust="spacingAndGlyphs">F245</text>
<text x="433.5" y="382" textLength="11" lengthAdjust="spacingAndGlyphs">F244</text>
<text x="434" y="406" textLength="11" lengthAdjust="spacingAndGlyphs">F243</text>
</g>
</svg>
</body></html>
